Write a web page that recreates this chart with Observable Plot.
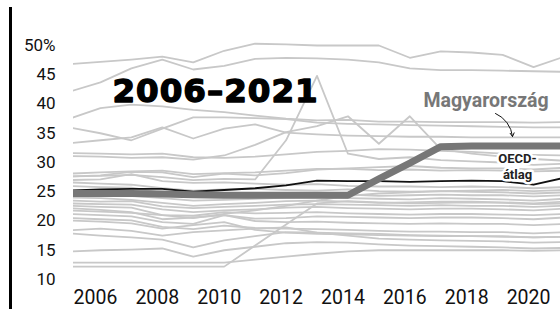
<!DOCTYPE html>
<html><head><meta charset="utf-8">
<script src="https://cdn.jsdelivr.net/npm/d3@7"></script>
<script src="https://cdn.jsdelivr.net/npm/@observablehq/plot@0.6"></script>
<style>
body{margin:0;background:#fff;}
#wrap{position:relative;width:560px;height:309px;overflow:hidden;background:#fff;}
#bar{position:absolute;left:9px;top:7px;width:3px;height:302px;background:#000;}
#wrap svg{position:absolute;left:0;top:0;}
#wrap svg .period text{letter-spacing:1px;}
</style></head><body><div id="wrap"><div id="bar"></div></div>
<script>
const years = [2005,2006,2007,2008,2009,2010,2011,2012,2013,2014,2015,2016,2017,2018,2019,2020,2021];
const xTicks = [2006,2008,2010,2012,2014,2016,2018,2020];
const yTicks = [10,15,20,25,30,35,40,45,50];
const hungary = [24.7,24.7,24.7,24.6,24.5,24.4,24.4,24.4,24.4,24.4,27.2,29.9,32.7,32.8,32.8,32.8,32.8];
const oecdAvg = [25.2,25.4,25.5,25.5,25.0,25.3,25.6,26.1,26.9,26.8,26.8,26.7,26.8,26.9,26.8,26.2,27.4];
const countries = [
  [46.8,47.2,47.6,48.1,47.1,49.1,50.3,50.2,50.0,50.0,50.0,47.9,49.0,48.8,48.4,46.3,48.1],
  [42.1,43.7,46.1,47.6,45.9,46.5,47.7,47.9,47.8,47.6,47.1,46.1,45.8,45.8,45.7,45.6,45.5],
  [37.5,39.3,39.9,39.6,39.0,38.6,38.0,37.5,37.2,37.3,37.0,37.0,36.9,36.9,36.9,36.8,36.9],
  [36.0,35.0,33.8,35.8,37.7,37.7,37.6,37.4,36.8,36.6,36.5,36.4,36.3,36.2,36.1,36.0,36.0],
  [33.3,33.8,34.3,36.0,34.1,35.8,36.5,35.1,34.8,34.6,34.5,34.4,34.4,34.3,34.3,34.3,34.3],
  [31.6,31.5,31.4,31.5,30.9,30.8,31.0,31.4,31.8,32.0,32.3,32.2,32.0,31.8,31.5,31.3,31.2],
  [31.1,31.0,30.8,30.9,30.5,31.2,33.0,35.2,36.2,37.9,33.2,37.9,32.3,31.5,31.0,30.6,30.3],
  [27.6,27.7,27.9,27.5,27.0,27.2,27.1,33.8,44.8,31.5,30.6,30.9,30.4,30.2,30.0,29.6,29.8],
  [27.6,27.8,28.4,28.3,27.5,28.1,27.8,28.2,28.8,29.0,29.2,29.4,29.1,29.0,29.0,28.8,29.1],
  [28.1,28.3,28.5,28.6,28.0,28.2,28.3,28.6,28.9,28.9,28.7,28.8,28.6,28.7,28.6,28.5,28.6],
  [27.0,27.1,28.0,26.8,26.5,26.6,26.4,26.2,26.3,26.0,25.9,25.9,25.8,25.9,25.8,25.6,25.8],
  [26.6,26.4,26.2,25.6,25.2,25.4,25.5,25.3,25.2,25.4,25.1,25.0,25.1,25.0,24.9,24.7,24.9],
  [26.0,25.8,25.7,24.8,24.2,24.6,24.5,24.4,24.6,24.5,24.3,24.4,24.5,24.4,24.4,24.2,24.4],
  [24.8,24.5,24.3,23.9,23.5,23.6,23.8,24.0,24.1,23.9,23.8,23.7,23.9,23.8,23.7,23.5,23.8],
  [24.0,23.9,23.6,23.1,22.6,22.9,23.1,23.4,23.5,23.3,23.1,23.2,23.3,23.3,23.2,23.0,23.3],
  [23.5,23.3,23.4,22.5,22.2,22.4,22.6,22.8,22.9,22.8,22.7,22.6,22.7,22.6,22.6,22.4,22.6],
  [23.0,22.9,22.8,22.0,21.5,21.8,22.0,22.3,22.4,22.2,22.1,22.0,22.1,22.1,22.0,21.8,22.1],
  [22.6,22.4,22.3,21.0,20.9,21.5,21.3,21.4,21.5,21.3,21.2,21.1,21.2,21.2,21.1,21.0,21.2],
  [22.2,21.9,21.5,20.3,20.6,21.0,20.4,20.5,20.8,20.7,20.6,20.5,20.6,20.6,20.5,20.3,20.6],
  [21.8,21.6,21.4,21.0,20.5,21.2,21.8,22.6,23.5,24.3,24.7,24.9,25.1,25.2,25.3,25.1,25.3],
  [21.2,21.0,20.8,19.8,19.5,21.0,20.0,19.8,19.9,19.7,19.6,19.5,19.6,19.5,19.5,19.3,19.5],
  [20.5,20.3,20.1,19.0,18.6,19.2,18.8,18.7,18.6,18.5,18.3,18.2,18.2,18.1,18.1,17.9,18.1],
  [20.1,19.9,19.6,18.7,19.3,19.8,18.5,18.0,17.8,17.7,17.6,17.5,17.4,17.4,17.3,17.2,17.3],
  [18.4,18.7,18.3,17.5,18.1,18.4,18.7,18.9,18.0,17.5,17.0,16.8,16.7,16.6,16.5,16.3,16.4],
  [17.9,17.5,17.2,16.8,15.5,16.7,17.4,18.1,18.0,17.9,17.8,17.6,17.5,17.4,17.4,17.2,17.3],
  [14.8,15.0,15.1,15.3,13.9,15.0,15.6,16.2,16.4,16.3,16.0,15.8,15.7,15.6,15.5,15.3,15.4],
  [12.9,12.9,12.9,12.9,12.9,12.9,13.4,13.9,14.4,14.8,15.0,15.0,15.0,15.0,15.0,14.9,15.0],
  [12.2,12.2,12.2,12.2,12.2,12.2,15.8,19.4,23.0,23.4,23.2,23.0,23.1,23.2,23.1,22.9,23.0]
];
const hungaryLabel = "Magyarország";
const oecdLabel = "OECD-\nátlag";
const periodLabel = "2006–2021";

const others = countries.flatMap((vals, i) => vals.map((v, j) => ({id: i, year: years[j], value: v})));
const hun = hungary.map((v, j) => ({year: years[j], value: v}));
const avg = oecdAvg.map((v, j) => ({year: years[j], value: v}));

const chart = Plot.plot({
  width: 560, height: 309,
  marginLeft: 73, marginRight: 0, marginTop: 0, marginBottom: 30,
  x: {domain: [2005, 2021], range: [69, 564], label: null},
  y: {domain: [10, 50], range: [279, 45], label: null},
  style: {fontFamily: "Roboto, sans-serif", background: "transparent", color: "#111", overflow: "visible"},
  marks: [
    Plot.axisY({ticks: yTicks, tickSize: 0, tickPadding: 18, fontSize: 17, label: null,
      tickFormat: d => d === 50 ? "50%" : String(d), textAnchor: "end"}),
    Plot.axisX({ticks: xTicks, tickSize: 0, tickPadding: 11, fontSize: 19.5, label: null,
      tickFormat: d => String(d), dx: -5}),
    Plot.line(others, {x: "year", y: "value", z: "id", stroke: "#c8c8c8", strokeWidth: 1.8, clip: true}),
    Plot.line(avg, {x: "year", y: "value", stroke: "#111", strokeWidth: 1.8, clip: true}),
    Plot.line(hun, {x: "year", y: "value", stroke: "#777", strokeWidth: 7, clip: true}),
    Plot.text([periodLabel], {x: 2006.39, y: 40.26, text: d => d, textAnchor: "start", lineAnchor: "bottom",
      fontFamily: "DejaVu Sans", fontWeight: "bold", fontSize: 32.5, fill: "#000", stroke: "#000", strokeWidth: 1.4,
      className: "period"}),
    Plot.text([hungaryLabel], {x: 2016.44, y: 39.57, text: d => d, textAnchor: "start", lineAnchor: "bottom",
      fontWeight: "bold", fontSize: 19.5, fill: "#777"}),
    Plot.arrow([0], {x1: 2018.77, y1: 38.38, x2: 2019.32, y2: 34.44, bend: 30, stroke: "#111",
      strokeWidth: 1, headLength: 6}),
    Plot.text([oecdLabel], {x: 2019.48, y: 31.9, text: d => d, textAnchor: "middle", lineAnchor: "top",
      fontWeight: "bold", fontSize: 13, lineHeight: 1.25, fill: "#222", stroke: "#fff", strokeWidth: 5})
  ]
});
document.getElementById("wrap").appendChild(chart);
</script>
</body></html>
